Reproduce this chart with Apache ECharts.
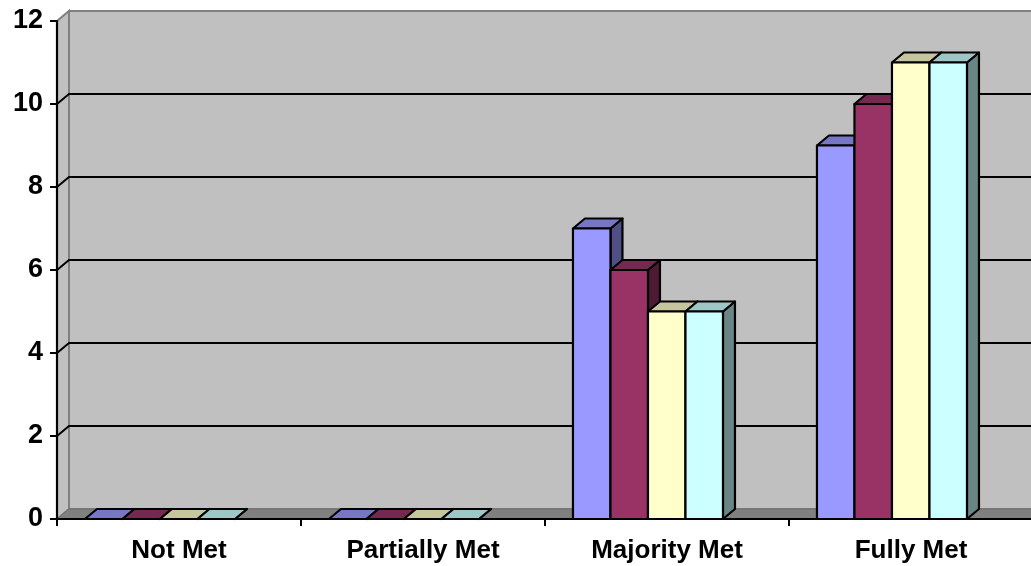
<!DOCTYPE html>
<html><head><meta charset="utf-8">
<style>html,body{margin:0;padding:0;background:#fff;overflow:hidden;width:1031px;height:566px}#c{width:1033px;height:566px}</style>
<script src="https://cdn.jsdelivr.net/npm/echarts@6/dist/echarts.min.js"></script>
</head><body><div id="c"></div>
<script>
var categories = ['Not Met', 'Partially Met', 'Majority Met', 'Fully Met'];
var valuesA = [0, 0, 7, 9];
var valuesB = [0, 0, 6, 10];
var valuesC = [0, 0, 5, 11];
var valuesD = [0, 0, 5, 11];
var gridTicks = [2, 4, 6, 8, 10];
var yMax = 12;

var frontColors = ['#9999FF', '#993366', '#FFFFCC', '#CCFFFF'];
var topColors = ['#7777C6', '#772850', '#C6C69E', '#9EC6C6'];
var sideColors = ['#4F4F85', '#4F1A35', '#85856A', '#6A8585'];
var DX = 12, DY = -10, LINE = 2.2;

function wallItem(params, api) {
  var o = api.coord([0, 0]), t = api.coord([0, yMax]);
  var band = api.size([1, 0])[0];
  var x0 = o[0] - band / 2, y0 = o[1], y1 = t[1];
  var x1 = x0 + band * categories.length;
  return { type: 'group', children: [
    { type: 'polygon', shape: { points: [[x0 + DX, y0 + DY], [x1 + DX, y0 + DY], [x1 + DX, y1 + DY], [x0 + DX, y1 + DY]] },
      style: { fill: '#C0C0C0', stroke: '#808080', lineWidth: 2 } },
    { type: 'polygon', shape: { points: [[x0, y0], [x0 + DX, y0 + DY], [x0 + DX, y1 + DY], [x0, y1]] },
      style: { fill: '#C0C0C0', stroke: '#808080', lineWidth: 2 } },
    { type: 'polygon', shape: { points: [[x0, y0], [x0 + DX, y0 + DY], [x1 + DX, y0 + DY], [x1, y0]] },
      style: { fill: '#808080', stroke: '#6E6E6E', lineWidth: 1 } }
  ] };
}

function gridItem(params, api) {
  var p = api.coord([0, api.value(1)]);
  var band = api.size([1, 0])[0];
  var x0 = p[0] - band / 2, y = p[1];
  var x1 = x0 + band * categories.length;
  return { type: 'polyline',
    shape: { points: [[x0, y], [x0 + DX, y + DY], [x1 + DX, y + DY]] },
    style: { fill: null, stroke: '#000', lineWidth: 2 } };
}

function barRenderer(idx) {
  return function (params, api) {
    var base = api.coord([api.value(0), 0]);
    var top = api.coord([api.value(0), api.value(1)]);
    var band = api.size([1, 0])[0];
    var barW = band * 0.1537;
    var shift = -band * 0.078;
    var xl = base[0] + shift + (idx - 2) * barW;
    var xr = xl + barW;
    var yb = base[1], yt = top[1];
    function st(fill) { return { fill: fill, stroke: '#000', lineWidth: LINE, lineJoin: 'round' }; }
    return { type: 'group', children: [
      { type: 'polygon', shape: { points: [[xr, yb], [xr + DX, yb + DY], [xr + DX, yt + DY], [xr, yt]] }, style: st(sideColors[idx]) },
      { type: 'polygon', shape: { points: [[xl, yt], [xl + DX, yt + DY], [xr + DX, yt + DY], [xr, yt]] }, style: st(topColors[idx]) },
      { type: 'polygon', shape: { points: [[xl, yb], [xr, yb], [xr, yt], [xl, yt]] }, style: st(frontColors[idx]) }
    ] };
  };
}

function barSeries(name, values, idx) {
  return { name: name, type: 'custom', coordinateSystem: 'cartesian2d', clip: false, z: 5 + idx,
    renderItem: barRenderer(idx), encode: { x: 0, y: 1 },
    data: values.map(function (v, i) { return [i, v]; }) };
}

var chart = echarts.init(document.getElementById('c'), null, { renderer: 'canvas' });
chart.setOption({
  animation: false,
  backgroundColor: '#fff',
  grid: { left: 57, top: 21, width: 976, height: 498, containLabel: false },
  xAxis: {
    type: 'category', data: categories, boundaryGap: true, z: 20,
    axisLine: { lineStyle: { color: '#000', width: 2.2 } },
    axisTick: { show: true, length: 7, lineStyle: { color: '#000', width: 2 } },
    axisLabel: { color: '#000', fontFamily: 'Liberation Sans', fontWeight: 'bold', fontSize: 26, margin: 19 },
    splitLine: { show: false }
  },
  yAxis: {
    type: 'value', min: 0, max: yMax, interval: 2, z: 20,
    axisLine: { show: true, lineStyle: { color: '#000', width: 2.2 } },
    axisTick: { show: true, length: 7, lineStyle: { color: '#000', width: 2 } },
    axisLabel: { color: '#000', fontFamily: 'Liberation Sans', fontWeight: 'bold', fontSize: 27, margin: 14 },
    splitLine: { show: false }
  },
  series: [
    { type: 'custom', coordinateSystem: 'cartesian2d', clip: false, z: 1, silent: true, renderItem: wallItem, data: [[0, 0]] },
    { type: 'custom', coordinateSystem: 'cartesian2d', clip: false, z: 2, silent: true, renderItem: gridItem,
      data: gridTicks.map(function (v) { return [0, v]; }) },
    barSeries('Series 1', valuesA, 0),
    barSeries('Series 2', valuesB, 1),
    barSeries('Series 3', valuesC, 2),
    barSeries('Series 4', valuesD, 3)
  ]
});
</script></body></html>
